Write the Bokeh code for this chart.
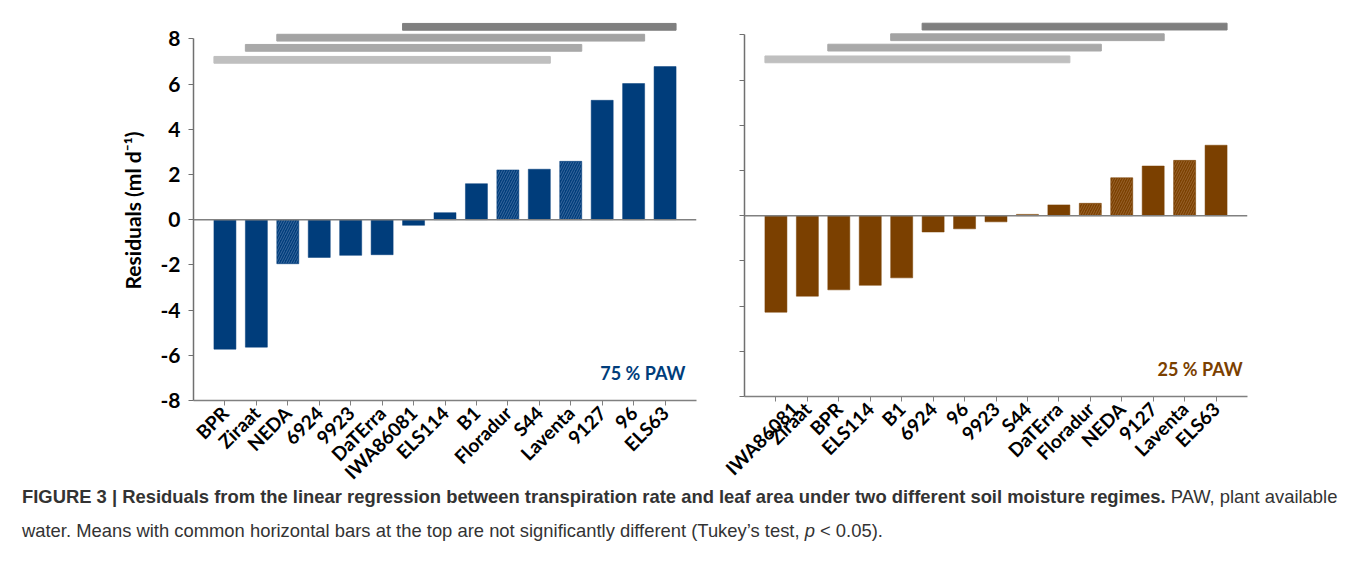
import numpy as np
from bokeh.plotting import figure
from bokeh.models import Range1d, FixedTicker, Span, Div, ColumnDataSource, Label
from bokeh.layouts import column, row
from bokeh.embed import file_html
from bokeh.resources import INLINE

# ---------------- data ----------------
cultivars_75 = ["BPR", "Ziraat", "NEDA", "6924", "9923", "DaTErra", "IWA86081", "ELS114",
                "B1", "Floradur", "S44", "Laventa", "9127", "96", "ELS63"]
residuals_75 = [-5.73, -5.64, -1.95, -1.67, -1.58, -1.55, -0.25, 0.31,
                1.59, 2.20, 2.23, 2.58, 5.28, 6.02, 6.77]
hatched_75 = ["NEDA", "Floradur", "Laventa"]

cultivars_25 = ["IWA86081", "Ziraat", "BPR", "ELS114", "B1", "6924", "96", "9923",
                "S44", "DaTErra", "Floradur", "NEDA", "9127", "Laventa", "ELS63"]
residuals_25 = [-4.27, -3.56, -3.28, -3.08, -2.75, -0.72, -0.58, -0.27,
                0.06, 0.48, 0.55, 1.68, 2.20, 2.45, 3.12]
hatched_25 = ["Floradur", "NEDA", "Laventa"]

# Tukey groups (first, last cultivar spanned), bottom row to top row
groups_75 = [("BPR", "S44"), ("Ziraat", "Laventa"), ("NEDA", "96"), ("IWA86081", "ELS63")]
groups_25 = [("IWA86081", "DaTErra"), ("BPR", "Floradur"), ("B1", "9127"), ("6924", "ELS63")]

y_ticks = [-8, -6, -4, -2, 0, 2, 4, 6, 8]

FONT = "Lato"
BAR_W = 0.7
GROUP_COLORS = ["#bfbfbf", "#a9a9a9", "#a3a3a3", "#7f7f7f"]


def panel(cultivars, residuals, hatched, groups, levels, color, hatch_color,
          label_text, label_x, y_top, frame_h, mb_left, mb_right, mb_bottom, show_labels):
    p = figure(frame_width=503, frame_height=frame_h,
               x_range=Range1d(0, 16), y_range=Range1d(-8, y_top),
               output_backend="svg", toolbar_location=None,
               min_border_left=mb_left, min_border_right=mb_right,
               min_border_top=20, min_border_bottom=mb_bottom)
    p.outline_line_color = None
    p.xgrid.visible = False
    p.ygrid.visible = False
    p.background_fill_color = "white"
    p.border_fill_color = "white"

    xs = list(range(1, len(cultivars) + 1))
    src = ColumnDataSource(dict(
        x=xs, top=residuals,
        hatch=["/" if c in hatched else " " for c in cultivars]))
    p.vbar(x="x", top="top", bottom=0, width=BAR_W, source=src,
           fill_color=color, line_color=color, line_width=0.5,
           hatch_pattern="hatch", hatch_color=hatch_color,
           hatch_scale=5, hatch_weight=0.8, hatch_alpha=0.7)

    p.add_layout(Span(location=0, dimension="width", line_color="#808080", line_width=1.5))

    # Tukey group bars
    for (a, b), lev, col in zip(groups, levels, GROUP_COLORS):
        i0 = cultivars.index(a) + 1
        i1 = cultivars.index(b) + 1
        p.hbar(y=[lev], left=[i0 - BAR_W / 2], right=[i1 + BAR_W / 2], height=0.3,
               fill_color=col, line_color=col)

    p.add_layout(Label(x=label_x, y=-6.8, text=label_text, text_align="right",
                       text_baseline="middle", text_font=FONT, text_font_style="bold",
                       text_font_size="18px", text_color=color))

    # x axis
    xa = p.xaxis[0]
    xa.ticker = FixedTicker(ticks=xs)
    xa.major_label_overrides = {x: c for x, c in zip(xs, cultivars)}
    xa.major_label_orientation = np.pi / 4
    xa.major_label_text_font = FONT
    xa.major_label_text_font_style = "bold"
    xa.major_label_text_font_size = "19px"
    xa.major_label_text_color = "black"
    xa.major_label_standoff = 4
    xa.minor_tick_line_color = None
    xa.major_tick_in = 0
    xa.major_tick_out = 5
    xa.major_tick_line_color = "#808080"
    xa.axis_line_color = "#808080"
    xa.axis_line_width = 1.5

    # y axis
    ya = p.yaxis[0]
    ya.ticker = FixedTicker(ticks=y_ticks)
    ya.bounds = (-8, 8)
    ya.minor_tick_line_color = None
    ya.major_tick_in = 0
    ya.major_tick_out = 5
    ya.major_tick_line_color = "#707070"
    ya.axis_line_color = "#707070"
    ya.axis_line_width = 1.5
    ya.major_label_text_font = FONT
    ya.major_label_text_font_style = "bold"
    ya.major_label_text_font_size = "21px"
    ya.major_label_text_color = "black"
    ya.major_label_standoff = 8
    if show_labels:
        ya.major_label_overrides = {t: str(t) for t in y_ticks}
        ya.axis_label = "Residuals (ml d\u207b\u00b9)"
        ya.axis_label_text_font = FONT
        ya.axis_label_text_font_style = "bold"
        ya.axis_label_text_font_size = "21px"
        ya.axis_label_text_color = "black"
        ya.axis_label_standoff = 12
    else:
        ya.major_label_overrides = {t: "" for t in y_ticks}
        ya.major_label_standoff = 0
    return p


p1 = panel(cultivars_75, residuals_75, hatched_75, groups_75,
           [7.07, 7.6, 8.05, 8.53], "#003d7b", "#6a8cbb", "75 % PAW", 15.65,
           8.81, 380, 193, 24, 72, True)
p2 = panel(cultivars_25, residuals_25, hatched_25, groups_25,
           [6.92, 7.44, 7.9, 8.37], "#7b4000", "#b08050", "25 % PAW", 15.85,
           8.64, 376, 24, 113, 76, False)

caption = Div(width=1360, height=80, styles={"overflow": "visible"}, text=(
    "<div style=\"font-family:'Liberation Sans',sans-serif;"
    "font-size:18.4px;line-height:34px;color:#333;padding-left:17px;margin-top:-19px;white-space:nowrap;\">"
    "<b>FIGURE 3 | Residuals from the linear regression between transpiration rate and leaf area "
    "under two different soil moisture regimes.</b> PAW, plant available<br>"
    "water. Means with common horizontal bars at the top are not significantly different "
    "(Tukey\u2019s test, <i>p</i> &lt; 0.05).</div>"))

layout = column(row(p1, p2, spacing=0), caption, spacing=0)

open("out.html", "w").write(file_html(layout, INLINE))
